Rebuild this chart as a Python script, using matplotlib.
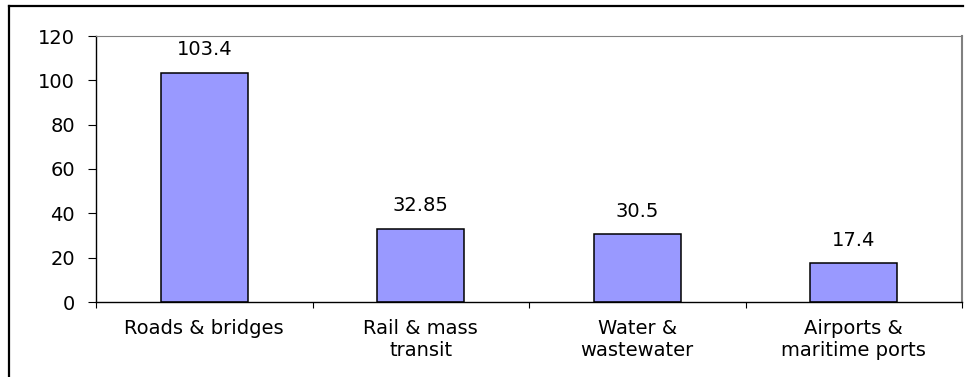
import matplotlib.pyplot as plt
from matplotlib.lines import Line2D

categories = ['Roads & bridges', 'Rail & mass\ntransit', 'Water &\nwastewater', 'Airports &\nmaritime ports']
values = [103.4, 32.85, 30.5, 17.4]
value_labels = ['103.4', '32.85', '30.5', '17.4']
yticks = [0, 20, 40, 60, 80, 100, 120]

# reference text is wide (stretched Arial); DejaVu Sans gets closest in width
plt.rcParams['font.family'] = ['DejaVu Sans']
fs = 14

W, H = 968, 377
fig = plt.figure(figsize=(W / 100, H / 100), dpi=100)
ax = fig.add_axes([96 / W, (H - 302) / H, (962 - 96) / W, (302 - 36) / H])

pos = [i + 0.5 for i in range(len(categories))]
ax.bar(pos, values, width=0.4, color='#9999ff', edgecolor='black', linewidth=1.1)

for x, v, s in zip(pos, values, value_labels):
    ax.annotate(s, (x, v), xytext=(0, 10), textcoords='offset points',
                ha='center', va='bottom', fontsize=fs)

ax.set_xlim(0, 4)
ax.set_ylim(0, 120)
ax.set_yticks(yticks)
ax.tick_params(axis='y', labelsize=fs, length=6, pad=9, width=0.8)

ax.set_xticks(pos)
ax.set_xticklabels(categories, fontsize=fs, linespacing=1.2)
ax.tick_params(axis='x', length=0, pad=12)
ax.set_xticks([0, 1, 2, 3, 4], minor=True)
ax.tick_params(axis='x', which='minor', length=4, width=0.8, direction='out')

ax.spines['top'].set_color('#808080')
ax.spines['right'].set_color('#808080')
ax.spines['right'].set_linewidth(1.5)
for s in ['left', 'bottom']:
    ax.spines[s].set_color('black')
    ax.spines[s].set_linewidth(1)

# outer chart frame (cropped: only left and top edges visible)
fig.add_artist(Line2D([9 / W, 9 / W], [0, 1 - 6 / H], color='black', lw=1.6))
fig.add_artist(Line2D([9 / W, 963 / W], [1 - 6 / H, 1 - 6 / H], color='black', lw=1.6))

fig.savefig('out.png', dpi=100)
